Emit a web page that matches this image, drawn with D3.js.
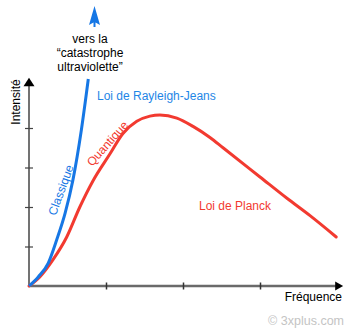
<!DOCTYPE html>
<html>
<head>
<meta charset="utf-8">
<script src="https://cdn.jsdelivr.net/npm/d3@7"></script>
<style>
html,body{margin:0;padding:0;background:#fff;}
svg{display:block;}
text{font-family:"Liberation Sans",Arial,Helvetica,sans-serif;}
</style>
</head>
<body>
<svg id="chart" width="352" height="330"></svg>
<script>
// Data (frequency in arbitrary units, intensity in arbitrary units)
const freqRJ = [0, 0.12, 0.25, 0.36, 0.47, 0.57, 0.68, 0.77];
const intensityRJ = [0, 0.23, 0.58, 1.17, 1.85, 2.68, 3.95, 5.24];
const freqPlanck = [0, 0.14, 0.31, 0.49, 0.66, 0.83, 1.05, 1.22, 1.40, 1.57, 1.70, 1.92, 2.13, 2.35, 2.52, 3.00, 3.35, 3.65, 3.99];
const intensityPlanck = [0, 0.23, 0.66, 1.24, 2.00, 2.66, 3.34, 3.86, 4.17, 4.30, 4.33, 4.25, 4.04, 3.76, 3.50, 2.76, 2.22, 1.78, 1.24];
const xTicks = [1, 2, 3];
const yTicks = [1, 2, 3, 4];
const labels = {
  xAxis: "Fréquence",
  yAxis: "Intensité",
  classic: "Classique",
  quantum: "Quantique",
  rj: "Loi de Rayleigh-Jeans",
  planck: "Loi de Planck",
  uv: ["vers la", "\u201Ccatastrophe", "ultraviolette\u201D"],
  credit: "\u00A9 3xplus.com"
};

const BLUE = "#1677e5", RED = "#f23a30";
const svg = d3.select("#chart");
const x = d3.scaleLinear().domain([0, 4]).range([29, 337]);
const y = d3.scaleLinear().domain([0, 4]).range([286, 128]);
const xEnd = 4.08, yEnd = 5.27;

// Axes lines
svg.append("line").attr("x1", x(0)).attr("x2", x(xEnd) - 5).attr("y1", y(0)).attr("y2", y(0))
  .attr("stroke", "#6a6a6a").attr("stroke-width", 2.5);
svg.append("path")
  .attr("d", `M${x(xEnd)},${y(0)} L${x(xEnd) - 8},${y(0) - 4.5} L${x(xEnd) - 8},${y(0) + 4.5} Z`)
  .attr("fill", "#000");
svg.append("line").attr("x1", x(0)).attr("x2", x(0)).attr("y1", y(0)).attr("y2", y(yEnd) + 6)
  .attr("stroke", "#444").attr("stroke-width", 1.5);
svg.append("path")
  .attr("d", `M${x(0)},${y(yEnd)} L${x(0) - 5.5},${y(yEnd) + 8.5} L${x(0) + 5.5},${y(yEnd) + 8.5} Z`)
  .attr("fill", "#000");

// Ticks via d3 axes
const gx = svg.append("g").attr("transform", `translate(0,${y(0)})`)
  .call(d3.axisBottom(x).tickValues(xTicks).tickFormat("").tickSizeInner(3).tickSizeOuter(0));
gx.select(".domain").remove();
gx.selectAll(".tick line").attr("y1", -3.5).attr("y2", 3.5).attr("stroke", "#333").attr("stroke-width", 1.5);

const gy = svg.append("g").attr("transform", `translate(${x(0)},0)`)
  .call(d3.axisLeft(y).tickValues(yTicks).tickFormat("").tickSizeInner(4).tickSizeOuter(0));
gy.select(".domain").remove();
gy.selectAll(".tick line").attr("x1", -4).attr("x2", 4).attr("stroke", "#444").attr("stroke-width", 1.2);

// Curves
const line = d3.line().x(d => x(d[0])).y(d => y(d[1])).curve(d3.curveMonotoneX);
svg.append("path").datum(freqPlanck.map((f, i) => [f, intensityPlanck[i]]))
  .attr("d", line).attr("fill", "none").attr("stroke", RED).attr("stroke-width", 3).attr("stroke-linecap", "round");
svg.append("path").datum(freqRJ.map((f, i) => [f, intensityRJ[i]]))
  .attr("d", line).attr("fill", "none").attr("stroke", BLUE).attr("stroke-width", 3).attr("stroke-linecap", "butt");

// Blue arrow at top
svg.append("path")
  .attr("d", "M94.5,6 L100,25 L95.5,22.5 L95.5,27 L93.5,27 L93.5,22.5 L89,25 Z")
  .attr("fill", BLUE);

// Texts
const t = (txt, px, py, opts = {}) => svg.append("text").attr("x", px).attr("y", py)
  .attr("font-size", opts.size || 12).attr("fill", opts.fill || "#000")
  .attr("text-anchor", opts.anchor || "start")
  .attr("transform", opts.rot ? `rotate(${opts.rot},${px},${py})` : null)
  .attr("dominant-baseline", opts.db || null)
  .text(txt);

labels.uv.forEach((s, i) => t(s, 90, 43 + i * 14, { anchor: "middle" }));
t(labels.rj, 97, 100, { fill: "#1e86e6" });
t(labels.planck, 199, 209.5, { fill: RED });
t(labels.xAxis, 342, 301, { anchor: "end" });
t(labels.credit, 344, 325, { anchor: "end", fill: "#c4c4c4", size: 12.5 });
t(labels.yAxis, 20, 102, { anchor: "middle", rot: -90 });
t(labels.classic, 61, 190, { anchor: "middle", rot: -70, fill: BLUE, db: "central" });
t(labels.quantum, 107.5, 143.5, { anchor: "middle", rot: -48.5, fill: RED, db: "central" });
</script>
</body>
</html>
